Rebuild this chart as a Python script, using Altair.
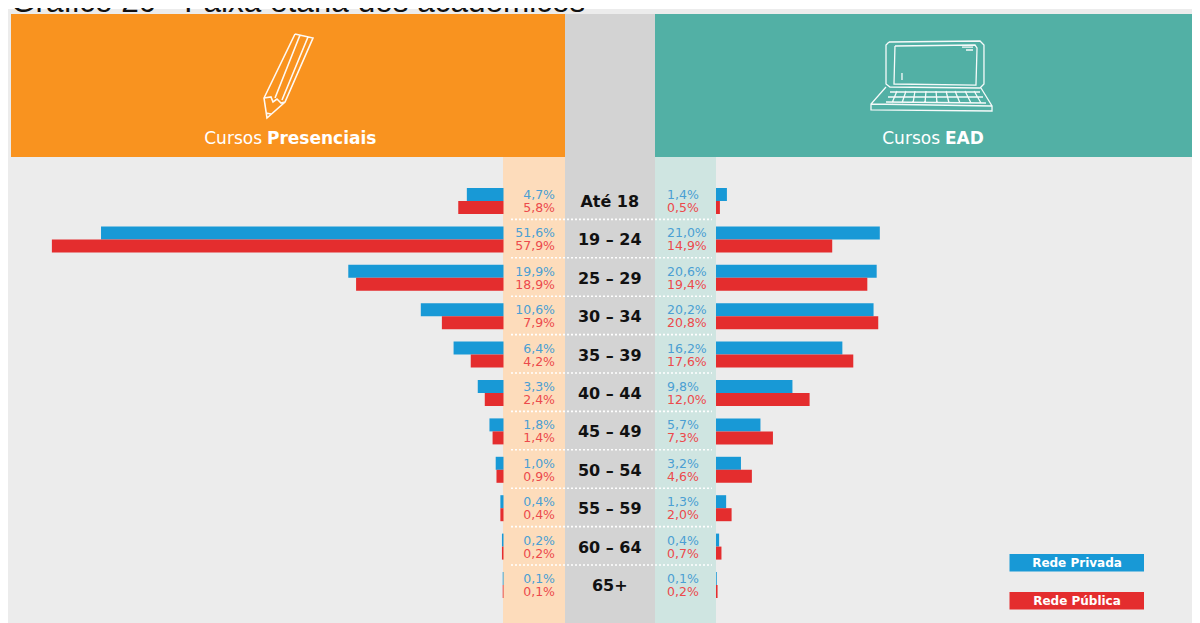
import altair as alt
import pandas as pd

faixas = ["Até 18", "19 – 24", "25 – 29", "30 – 34", "35 – 39", "40 – 44", "45 – 49", "50 – 54", "55 – 59", "60 – 64", "65+"]
pres_privada = [4.7, 51.6, 19.9, 10.6, 6.4, 3.3, 1.8, 1.0, 0.4, 0.2, 0.1]
pres_publica = [5.8, 57.9, 18.9, 7.9, 4.2, 2.4, 1.4, 0.9, 0.4, 0.2, 0.1]
ead_privada = [1.4, 21.0, 20.6, 20.2, 16.2, 9.8, 5.7, 3.2, 1.3, 0.4, 0.1]
ead_publica = [0.5, 14.9, 19.4, 20.8, 17.6, 12.0, 7.3, 4.6, 2.0, 0.7, 0.2]
redes = ["Rede Privada", "Rede Pública"]
AZUL, VERMELHO = "#1899d6", "#e42d2e"
FONT = "DejaVu Sans"

OFF = 8             # page margin: picture pixel = chart pixel + OFF
W, H = 1184, 615
PX = 7.8            # pixels per percentage point
LEFT0, RIGHT0 = 503.5, 716.0
MID = (LEFT0 + RIGHT0) / 2
HALF = (RIGHT0 - LEFT0) / 2 / PX
DOMAIN = [-MID / PX, (1200 - MID) / PX]

rows = []
for i, f in enumerate(faixas):
    for rede, pres, ead in ((redes[0], pres_privada, ead_privada), (redes[1], pres_publica, ead_publica)):
        rows.append(dict(faixa=f, rede=rede, lado="pres", v=pres[i], a=-HALF, b=-HALF - pres[i]))
        rows.append(dict(faixa=f, rede=rede, lado="ead", v=ead[i], a=HALF, b=HALF + ead[i]))
df = pd.DataFrame(rows)
df["rot"] = df["v"].map(lambda v: f"{v:.1f}%".replace(".", ","))

xs = alt.Scale(domain=DOMAIN, range=[-OFF, 1200 - OFF], nice=False, zero=False)
ys = alt.Scale(domain=faixas, range=[181.6 - OFF, 604.0 - OFF], paddingInner=0, paddingOuter=0)
yo = alt.Scale(domain=redes, range=[6.4, 32.4], paddingInner=0, paddingOuter=0)
Y = alt.Y("faixa:N", scale=ys, axis=None, sort=None)
YO = alt.YOffset("rede:N", scale=yo, sort=None)
COLOR = alt.Color("rede:N", scale=alt.Scale(domain=redes, range=[AZUL, VERMELHO]), legend=None)
dummy = alt.Data(values=[{"k": 0}])


def box(x0, x1, y0, y1, color):
    return alt.Chart(dummy).mark_rect(color=color).encode(
        x=alt.value(x0 - OFF), x2=alt.value(x1 - OFF), y=alt.value(y0 - OFF), y2=alt.value(y1 - OFF))


def label(text, x, y, size, color="white", weight="normal", align="center", font=FONT, baseline="middle"):
    return alt.Chart(dummy).mark_text(text=text, fontSize=size, color=color, fontWeight=weight,
                                      align=align, baseline=baseline, font=font).encode(
        x=alt.value(x - OFF), y=alt.value(y - OFF))


def icon(polys, x0, x1, y0, y1, width=1.4):
    cx, cy = (x0 + x1) / 2, (y0 + y1) / 2
    h = max(x1 - x0, y1 - y0) / 2
    d = ""
    for p in polys:
        d += "M" + "L".join(f"{(a - cx) / h:.3f},{(b - cy) / h:.3f}" for a, b in p)
    return alt.Chart(dummy).mark_point(shape=d, size=(2 * h) ** 2, filled=False, stroke="white",
                                       strokeWidth=width, opacity=0.95).encode(
        x=alt.value(cx - OFF), y=alt.value(cy - OFF))


lapis = [
    [(295, 34), (313, 38), (285, 102), (267, 118), (264, 98), (295, 34)],
    [(300, 35), (275, 98)],
    [(308, 37), (282, 100)],
    [(264, 98), (271, 97), (273, 102), (277, 99), (281, 103), (285, 102)],
    [(266, 113), (271, 114)],
]
laptop = [
    [(889, 42), (980, 41), (984, 45), (984, 84), (980, 88), (890, 87), (886, 84), (886, 45), (889, 42)],
    [(895, 46), (975, 45), (977, 48), (976, 85), (894, 84), (895, 46)],
    [(886, 87), (871, 104), (871, 110), (992, 111), (992, 106), (981, 88)],
    [(871, 104), (992, 106)],
    [(890, 92), (980, 92)], [(888, 97), (983, 97)], [(886, 102), (986, 103)],
    [(897, 91), (892, 103)], [(906, 91), (902, 103)], [(915, 91), (913, 103)], [(926, 91), (925, 103)],
    [(936, 91), (937, 103)], [(946, 91), (949, 103)], [(955, 91), (960, 103)], [(965, 91), (971, 103)],
    [(974, 91), (981, 103)],
    [(902, 73), (902, 80)], [(962, 47), (973, 47)], [(966, 50), (973, 50)],
]

fundo = [
    box(7, 1220, 9, 640, "#ececec"),
    box(565, 655, 14, 640, "#d3d3d3"),
    box(11, 565, 14, 157, "#f9931f"),
    box(655, 1220, 14, 157, "#52b0a5"),
    box(503, 565, 157, 640, "#fddcbb"),
    box(655, 716, 157, 640, "#cfe5e1"),
]
barras = alt.Chart(df).mark_bar(size=13).encode(
    x=alt.X("a:Q", scale=xs, axis=None), x2="b:Q", y=Y, yOffset=YO, color=COLOR)

seps = alt.Chart(pd.DataFrame({"faixa": faixas[:-1]})).mark_rule(
    color="white", strokeWidth=1.6, strokeDash=[2, 2]).encode(
    x=alt.value(511 - OFF), x2=alt.value(712 - OFF),
    y=alt.Y("faixa:N", scale=ys, axis=None, sort=None, bandPosition=0.985))

TXT = alt.Color("rede:N", scale=alt.Scale(domain=redes, range=["#4b9fd3", "#ec4a4c"]), legend=None)
rot_pres = alt.Chart(df[df.lado == "pres"]).mark_text(align="right", baseline="middle", fontSize=12.5, font=FONT, dx=51.5, dy=0.5).encode(
    x=alt.X("a:Q", scale=xs, axis=None), y=Y, yOffset=YO, text="rot:N", color=TXT)
rot_ead = alt.Chart(df[df.lado == "ead"]).mark_text(align="left", baseline="middle", fontSize=12.5, font=FONT, dx=-49, dy=0.5).encode(
    x=alt.X("a:Q", scale=xs, axis=None), y=Y, yOffset=YO, text="rot:N", color=TXT)
centro = alt.Chart(pd.DataFrame({"faixa": faixas, "c": [0] * len(faixas)})).mark_text(
    fontSize=16, fontWeight="bold", font=FONT, color="#111111", baseline="middle", dy=1.2).encode(
    x=alt.X("c:Q", scale=xs, axis=None), y=Y, text="faixa:N")

textos = [
    label("Gráfico 20 - Faixa etária dos acadêmicos", 11, 12, 31.5, "#111111", align="left", font="Liberation Sans", baseline="alphabetic"),
    label("Cursos", 262, 139, 17, align="right"),
    label("Presenciais", 267, 139, 17, weight="bold", align="left"),
    label("Cursos", 940, 139, 17, align="right"),
    label("EAD", 945, 139, 17, weight="bold", align="left"),
    box(1009.5, 1144, 554, 571.5, AZUL),
    box(1009.5, 1144, 592, 609.5, VERMELHO),
    label(redes[0], 1077, 563, 12, weight="bold"),
    label(redes[1], 1077, 600.5, 12, weight="bold"),
    icon(lapis, 264, 314, 34, 118, 1.6),
    icon(laptop, 871, 993, 41, 111, 1.3),
]

chart = alt.layer(*fundo, barras, seps, rot_pres, rot_ead, centro, *textos).resolve_scale(
    color="independent"
).properties(
    width=W, height=H, padding=0, background="white",
    autosize=alt.AutoSizeParams(type="none"),
).configure_view(stroke=None)

chart.save("out.html", embed_options={"renderer": "svg", "actions": False})
